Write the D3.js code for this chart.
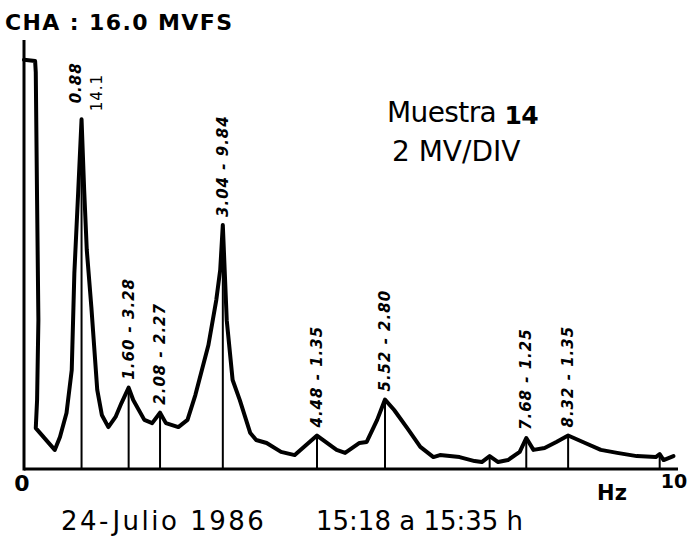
<!DOCTYPE html>
<html>
<head>
<meta charset="utf-8">
<script src="https://cdn.jsdelivr.net/npm/d3@7"></script>
<style>
  html, body { margin: 0; padding: 0; background: #fff; }
  svg { display: block; }
  text { fill: #000; }
</style>
</head>
<body>
<svg id="chart" width="687" height="536"></svg>
<script>
// Spectrum trace, frequency (Hz) and amplitude (mV)
const curveHz = [0, 0.17, 0.18, 0.20, 0.22, 0.20, 0.18, 0.47, 0.55, 0.65, 0.73, 0.77, 0.83, 0.88,
  0.92, 0.96, 1.03, 1.12, 1.19, 1.29, 1.40, 1.49, 1.60, 1.67, 1.84, 1.96, 2.08,
  2.17, 2.36, 2.50, 2.62, 2.72, 2.82, 2.94, 3.00, 3.04, 3.10, 3.19, 3.30, 3.46, 3.55, 3.71, 3.93, 4.14, 4.48,
  4.78, 4.91, 5.13, 5.24, 5.40, 5.52, 5.66, 5.86, 6.06, 6.26, 6.36, 6.66, 6.89, 7.00, 7.12,
  7.25, 7.40, 7.58, 7.68, 7.79, 7.96, 8.14, 8.32, 8.58, 8.82, 9.07, 9.37, 9.66, 9.72, 9.78, 9.93];
const curveAmp = [16.5, 16.45, 16.0, 10.85, 6.0, 2.78, 1.65, 0.77, 1.29, 2.26, 3.99, 7.9, 11.25, 14.1,
  11.25, 8.83, 6.53, 3.19, 2.18, 1.69, 2.10, 2.66, 3.28, 2.78, 1.98, 1.85, 2.27,
  1.85, 1.69, 1.98, 2.98, 3.99, 5.0, 6.81, 8.02, 9.84, 6.0, 3.59, 2.78, 1.45, 1.17, 1.05, 0.69, 0.56, 1.35,
  0.77, 0.65, 1.05, 1.09, 1.98, 2.80, 2.38, 1.65, 0.89, 0.48, 0.56, 0.48, 0.32, 0.28, 0.52,
  0.28, 0.36, 0.69, 1.25, 0.77, 0.85, 1.09, 1.35, 1.05, 0.77, 0.65, 0.52, 0.48, 0.60, 0.36, 0.52];

// Labelled peaks: frequency (Hz) - amplitude (mV)
const peakHz  = [0.88, 1.60, 2.08, 3.04, 4.48, 5.52, 7.68, 8.32];
const peakAmp = [14.1, 3.28, 2.27, 9.84, 1.35, 2.80, 1.25, 1.35];

// Unlabelled marker lines
const markHz  = [7.12, 9.72];
const markAmp = [0.52, 0.60];

const axisTickLabels = ["0", "10"];
const fullScale = 16;

const svg = d3.select("#chart");

const x = d3.scaleLinear().domain([0, 10]).range([24, 678]);
const y = d3.scaleLinear().domain([0, fullScale]).range([469, 72.2]);

// frame: baseline and left edge
svg.append("line")
  .attr("x1", x(0)).attr("x2", x(10))
  .attr("y1", y(0)).attr("y2", y(0))
  .attr("stroke", "#000").attr("stroke-width", 3);
svg.append("line")
  .attr("x1", x(0)).attr("x2", x(0))
  .attr("y1", y(0) + 1.5).attr("y2", 40)
  .attr("stroke", "#000").attr("stroke-width", 3);

// marker lines from baseline to each peak
const marks = peakHz.map((f, i) => ({ f, a: peakAmp[i] }))
  .concat(markHz.map((f, i) => ({ f, a: markAmp[i] })));
svg.selectAll("line.mark")
  .data(marks)
  .join("line")
  .attr("class", "mark")
  .attr("x1", d => x(d.f)).attr("x2", d => x(d.f))
  .attr("y1", y(0)).attr("y2", d => y(d.a))
  .attr("stroke", "#000").attr("stroke-width", 2);

// spectrum trace
const pts = curveHz.map((f, i) => [f, curveAmp[i]]);
svg.append("path")
  .datum(pts)
  .attr("fill", "none")
  .attr("stroke", "#000")
  .attr("stroke-width", 4)
  .attr("stroke-linejoin", "round")
  .attr("stroke-linecap", "round")
  .attr("d", d3.line().x(d => x(d[0])).y(d => y(d[1])));

// peak labels, written upward
const fmtAmp = a => a >= 10 ? a.toFixed(1) : a.toFixed(2);
const labelFont = "'DejaVu Sans', sans-serif";
peakHz.forEach((f, i) => {
  const a = peakAmp[i];
  const g = svg.append("g")
    .attr("transform", `translate(${x(f)},${y(a) - 8}) rotate(-90)`)
    .attr("font-family", labelFont)
    .attr("font-size", 15)
    .attr("font-weight", "bold")
    .attr("font-style", "italic")
    .attr("letter-spacing", 1);
  if (a >= 10) {
    g.append("text").attr("x", 8).attr("y", -6)
      .attr("dominant-baseline", "central").text(f.toFixed(2));
    g.append("text").attr("x", 0).attr("y", 15)
      .attr("dominant-baseline", "central").attr("font-style", "normal")
      .attr("font-weight", "normal").text(fmtAmp(a));
  } else {
    g.append("text").attr("x", 0).attr("y", 0)
      .attr("dominant-baseline", "central").text(`${f.toFixed(2)} - ${fmtAmp(a)}`);
  }
});

// axis end labels
svg.append("text")
  .attr("x", x(0) - 2).attr("y", 491)
  .attr("text-anchor", "middle")
  .attr("font-family", labelFont).attr("font-weight", "bold").attr("font-size", 22)
  .text(axisTickLabels[0]);
svg.append("text")
  .attr("x", x(10) - 4).attr("y", 488)
  .attr("text-anchor", "middle")
  .attr("font-family", labelFont).attr("font-weight", "bold").attr("font-size", 19)
  .text(axisTickLabels[1]);
svg.append("text")
  .attr("x", 612).attr("y", 500)
  .attr("text-anchor", "middle")
  .attr("font-family", labelFont).attr("font-weight", "bold").attr("font-size", 21)
  .text("Hz");

// header and annotations
svg.append("text")
  .attr("x", 5).attr("y", 30)
  .attr("font-family", labelFont).attr("font-weight", "bold").attr("font-size", 22)
  .attr("letter-spacing", 1.4)
  .text("CHA : 16.0 MVFS");

const sample = svg.append("text")
  .attr("x", 387).attr("y", 122)
  .attr("font-family", labelFont).attr("font-size", 28)
  .attr("letter-spacing", -0.6)
  .text("Muestra ");
sample.append("tspan").attr("font-weight", "bold").attr("font-size", 25).attr("dy", 2).text("14");

svg.append("text")
  .attr("x", 392).attr("y", 161)
  .attr("font-family", labelFont).attr("font-size", 28)
  .text("2 MV/DIV");

svg.append("text")
  .attr("x", 61).attr("y", 530)
  .attr("font-family", labelFont).attr("font-size", 26)
  .attr("letter-spacing", 2.5)
  .text("24-Julio 1986");
svg.append("text")
  .attr("x", 316).attr("y", 530)
  .attr("font-family", labelFont).attr("font-size", 26)
  .text("15:18 a 15:35 h");
</script>
</body>
</html>
